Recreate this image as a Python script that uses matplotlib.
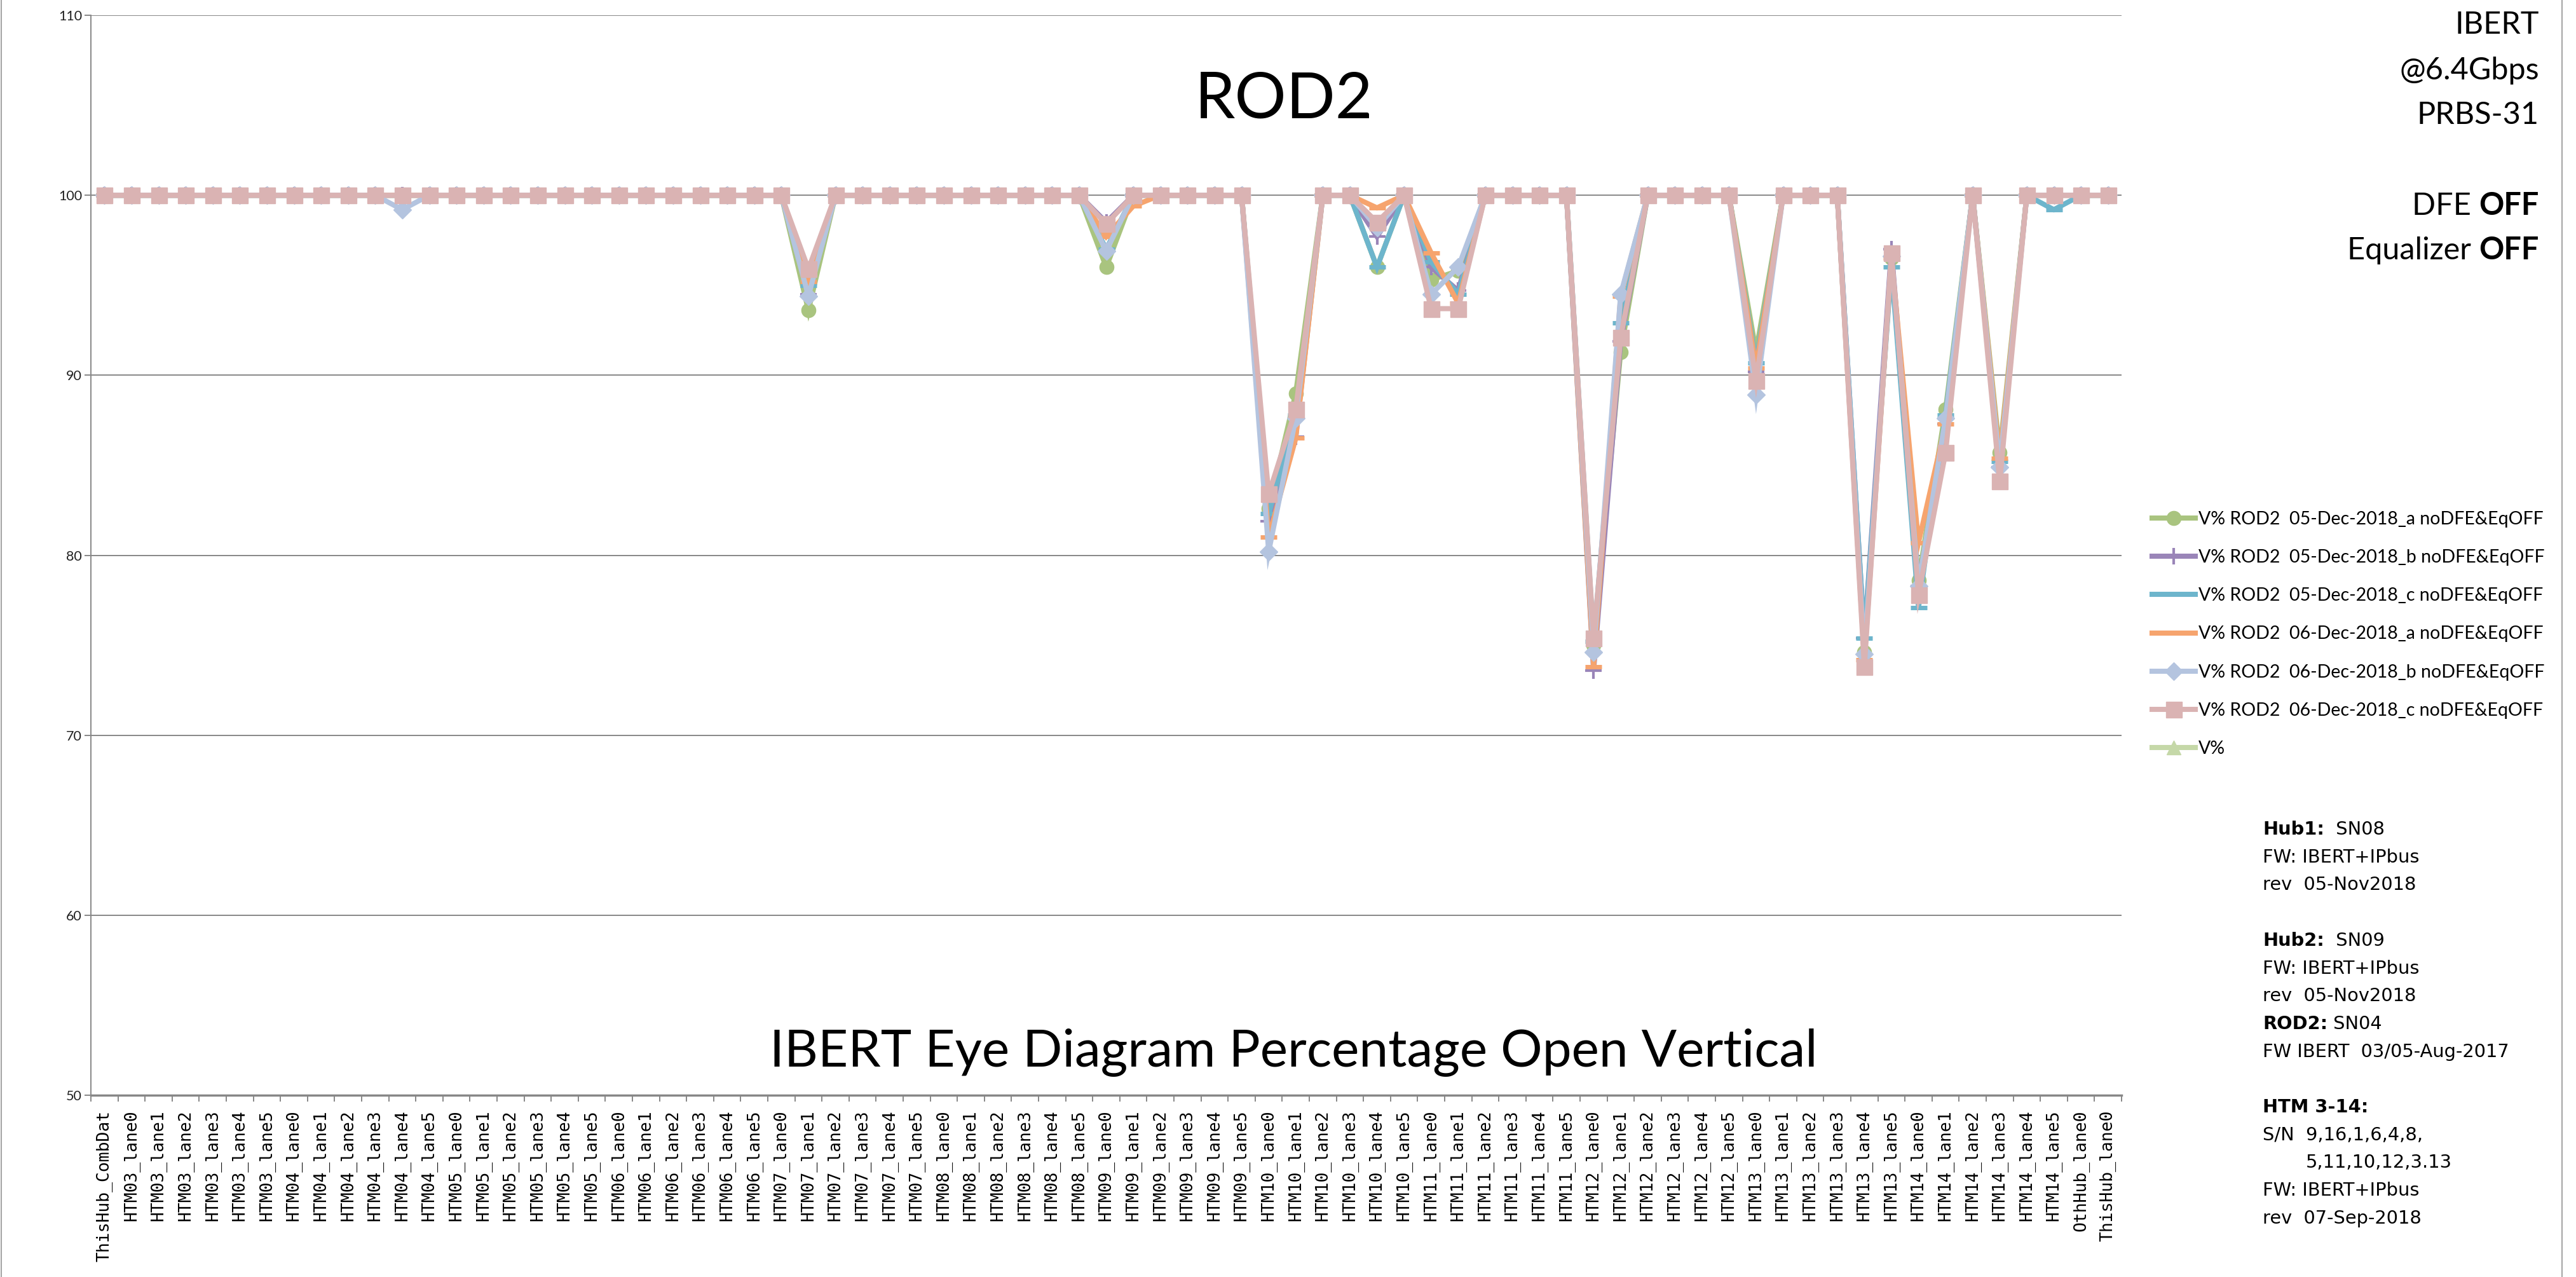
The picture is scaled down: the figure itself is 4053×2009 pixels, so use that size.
import numpy as np
import matplotlib
matplotlib.use("Agg")
import matplotlib.pyplot as plt
from matplotlib.lines import Line2D

# figure size in pixels
W, H = 4053, 2009
DPI = 100
FONT = "Lato"
NOTE_FONT = "DejaVu Sans"

# x categories
categories = (["ThisHub_CombDat"]
              + [f"HTM{m:02d}_lane{k}" for m in range(3, 15) for k in range(6)]
              + ["OthHub_lane0", "ThisHub_lane0"])

# V% values per run (75 categories, 15 per row)
v_05a = [
    100, 100, 100, 100, 100, 100, 100, 100, 100, 100, 100, 100, 100, 100, 100,
    100, 100, 100, 100, 100, 100, 100, 100, 100, 100, 100, 93.6, 100, 100, 100,
    100, 100, 100, 100, 100, 100, 100, 96.0, 100, 100, 100, 100, 100, 82.6, 89.0,
    100, 100, 96.0, 100, 95.3, 95.8, 100, 100, 100, 100, 75.0, 91.3, 100, 100, 100,
    100, 91.3, 100, 100, 100, 74.6, 96.5, 78.6, 88.1, 100, 85.7, 100, 100, 100, 100,
]
v_05b = [
    100, 100, 100, 100, 100, 100, 100, 100, 100, 100, 100, 100, 100, 100, 100,
    100, 100, 100, 100, 100, 100, 100, 100, 100, 100, 100, 94.5, 100, 100, 100,
    100, 100, 100, 100, 100, 100, 100, 98.5, 100, 100, 100, 100, 100, 81.9, 86.6,
    100, 100, 97.7, 100, 96.0, 94.7, 100, 100, 100, 100, 73.6, 91.9, 100, 100, 100,
    100, 90.2, 100, 100, 100, 75.4, 97.0, 78.3, 87.3, 100, 84.9, 100, 100, 100, 100,
]
v_05c = [
    100, 100, 100, 100, 100, 100, 100, 100, 100, 100, 100, 100, 100, 100, 100,
    100, 100, 100, 100, 100, 100, 100, 100, 100, 100, 100, 95.0, 100, 100, 100,
    100, 100, 100, 100, 100, 100, 100, 97.0, 100, 100, 100, 100, 100, 82.3, 87.8,
    100, 100, 96.0, 100, 96.3, 94.5, 100, 100, 100, 100, 75.2, 92.9, 100, 100, 100,
    100, 90.7, 100, 100, 100, 75.4, 96.0, 77.1, 87.8, 100, 85.2, 100, 99.2, 100, 100,
]
v_06a = [
    100, 100, 100, 100, 100, 100, 100, 100, 100, 100, 100, 100, 100, 100, 100,
    100, 100, 100, 100, 100, 100, 100, 100, 100, 100, 100, 95.2, 100, 100, 100,
    100, 100, 100, 100, 100, 100, 100, 97.7, 99.4, 100, 100, 100, 100, 81.0, 86.5,
    100, 100, 99.3, 100, 96.8, 94.0, 100, 100, 100, 100, 73.8, 94.4, 100, 100, 100,
    100, 90.4, 100, 100, 100, 74.2, 96.5, 80.7, 87.3, 100, 85.4, 100, 100, 100, 100,
]
v_06b = [
    100, 100, 100, 100, 100, 100, 100, 100, 100, 100, 100, 99.2, 100, 100, 100,
    100, 100, 100, 100, 100, 100, 100, 100, 100, 100, 100, 94.4, 100, 100, 100,
    100, 100, 100, 100, 100, 100, 100, 96.9, 100, 100, 100, 100, 100, 80.2, 87.6,
    100, 100, 98.2, 100, 94.5, 96.0, 100, 100, 100, 100, 74.6, 94.5, 100, 100, 100,
    100, 88.9, 100, 100, 100, 74.5, 96.6, 78.3, 87.6, 100, 84.9, 100, 100, 100, 100,
]
v_06c = [
    100, 100, 100, 100, 100, 100, 100, 100, 100, 100, 100, 100, 100, 100, 100,
    100, 100, 100, 100, 100, 100, 100, 100, 100, 100, 100, 95.9, 100, 100, 100,
    100, 100, 100, 100, 100, 100, 100, 98.4, 100, 100, 100, 100, 100, 83.4, 88.1,
    100, 100, 98.5, 100, 93.7, 93.7, 100, 100, 100, 100, 75.4, 92.1, 100, 100, 100,
    100, 89.7, 100, 100, 100, 73.8, 96.8, 77.8, 85.7, 100, 84.1, 100, 100, 100, 100,
]
v_empty = []  # "V%" series has no visible points

labels = [
    "V% ROD2  05-Dec-2018_a noDFE&EqOFF",
    "V% ROD2  05-Dec-2018_b noDFE&EqOFF",
    "V% ROD2  05-Dec-2018_c noDFE&EqOFF",
    "V% ROD2  06-Dec-2018_a noDFE&EqOFF",
    "V% ROD2  06-Dec-2018_b noDFE&EqOFF",
    "V% ROD2  06-Dec-2018_c noDFE&EqOFF",
    "V%",
]

# styles: color, marker, markersize, markeredgewidth
styles = [
    ("#A9C47F", "o", 16, 1),
    ("#9A85B8", "+", 19, 3),
    ("#6DB5CC", "_", 19, 5),
    ("#F6A46E", "_", 19, 5),
    ("#B4C4DF", "D", 14, 1),
    ("#DAB3B3", "s", 18, 1),
    ("#C5D8A8", "^", 16, 1),
]
series = [v_05a, v_05b, v_05c, v_06a, v_06b, v_06c, v_empty]

fig = plt.figure(figsize=(W / DPI, H / DPI), dpi=DPI)
ax = fig.add_axes([143 / W, 1 - 1723 / H, (3338 - 143) / W, (1723 - 24) / H])

x = np.arange(len(categories))
handles = []
for vals, lab, (col, mk, ms, mew) in zip(series, labels, styles):
    xs = x[:len(vals)]
    ln, = ax.plot(xs, vals, color=col, lw=5.8, marker=mk, markersize=ms,
                  markeredgewidth=mew, markeredgecolor=col, markerfacecolor=col,
                  label=lab, solid_joinstyle="miter")
    handles.append(ln)

# axes look (Excel style)
ax.set_xlim(-0.5, len(categories) - 0.5)
ax.set_ylim(50, 110)
ax.set_yticks(np.arange(50, 111, 10))
ax.yaxis.grid(True, color="#878787", lw=1.4)
ax.set_axisbelow(True)
for s in ["top", "right"]:
    ax.spines[s].set_visible(False)
ax.spines["left"].set_color("#878787")
ax.spines["left"].set_linewidth(1.4)
ax.spines["bottom"].set_color("#878787")
ax.spines["bottom"].set_linewidth(2.5)

ax.set_xticks(np.arange(-0.5, len(categories), 1.0))
ax.set_xticklabels([])
ax.tick_params(axis="x", which="major", direction="out", length=7, width=1.4, color="#878787")
ax.set_xticks(x, minor=True)
ax.set_xticklabels(categories, minor=True, rotation=90, family="DejaVu Sans Mono",
                   fontsize=19, va="top", ha="center")
ax.tick_params(axis="x", which="minor", length=0, pad=17)
ax.tick_params(axis="y", direction="out", length=7, width=1.4, color="#878787", pad=3)
for t in ax.get_yticklabels():
    t.set_family(FONT)
    t.set_fontsize(15.5)
    t.set_color("#222222")

# titles
fig.text(2020 / W, 1 - 186 / H, "ROD2", family=FONT, fontsize=73,
         ha="center", va="baseline")
fig.text(2035 / W, 1 - 1678 / H, "IBERT Eye Diagram Percentage Open Vertical",
         family=FONT, fontsize=59, ha="center", va="baseline")

renderer = fig.canvas.get_renderer()


def text_width(txt, size, weight, family):
    a = fig.text(0, 0, txt + "|", family=family, fontsize=size, fontweight=weight)
    b = fig.text(0, 0, "|", family=family, fontsize=size, fontweight=weight)
    w = a.get_window_extent(renderer).width - b.get_window_extent(renderer).width
    a.remove()
    b.remove()
    return w


def put_parts(x_px, y_px, parts, size, ha="left", family=FONT):
    widths = [text_width(t, size, wt, family) for t, wt in parts]
    x0 = x_px - sum(widths) if ha == "right" else x_px
    for (t, wt), wd in zip(parts, widths):
        fig.text(x0 / W, 1 - y_px / H, t, family=family, fontsize=size,
                 fontweight=wt, ha="left", va="baseline")
        x0 += wd


# top right notes
top_lines = [
    (53, [("IBERT", "normal")]),
    (125, [("@6.4Gbps", "normal")]),
    (195, [("PRBS-31", "normal")]),
    (338, [("DFE ", "normal"), ("OFF", "bold")]),
    (408, [("Equalizer ", "normal"), ("OFF", "bold")]),
]
for y_px, parts in top_lines:
    put_parts(3995, y_px, parts, 35, ha="right")

# bottom right notes
note_lines = [
    [("Hub1:", "bold"), ("  SN08", "normal")],
    [("FW: IBERT+IPbus", "normal")],
    [("rev  05-Nov2018", "normal")],
    None,
    [("Hub2:", "bold"), ("  SN09", "normal")],
    [("FW: IBERT+IPbus", "normal")],
    [("rev  05-Nov2018", "normal")],
    [("ROD2:", "bold"), (" SN04", "normal")],
    [("FW IBERT  03/05-Aug-2017", "normal")],
    None,
    [("HTM 3-14:", "bold")],
    [("S/N  9,16,1,6,4,8,", "normal")],
    "indent",
    [("FW: IBERT+IPbus", "normal")],
    [("rev  07-Sep-2018", "normal")],
]
NOTE_SIZE = 20.8
NOTE_X = 3560
indent = text_width("S/N  ", NOTE_SIZE, "normal", NOTE_FONT)
for i, parts in enumerate(note_lines):
    y_px = 1313 + i * 43.7
    if parts is None:
        continue
    if parts == "indent":
        put_parts(NOTE_X + indent, y_px, [("5,11,10,12,3.13", "normal")], NOTE_SIZE,
                  family=NOTE_FONT)
    else:
        put_parts(NOTE_X, y_px, parts, NOTE_SIZE, family=NOTE_FONT)

# legend
fig.legend(handles, labels, loc="upper left",
           bbox_to_anchor=(3386 / W, 1 - 804 / H), frameon=False,
           prop={"family": FONT, "size": 20.5}, handlelength=2.4,
           handletextpad=0.15, labelspacing=1.2, borderpad=0, borderaxespad=0)

# chart border lines
for xb in (2, 4031):
    fig.add_artist(Line2D([xb / W, xb / W], [0, 1], transform=fig.transFigure,
                          color="#A6A6A6", lw=1.5))

fig.savefig("out.png", dpi=DPI)
